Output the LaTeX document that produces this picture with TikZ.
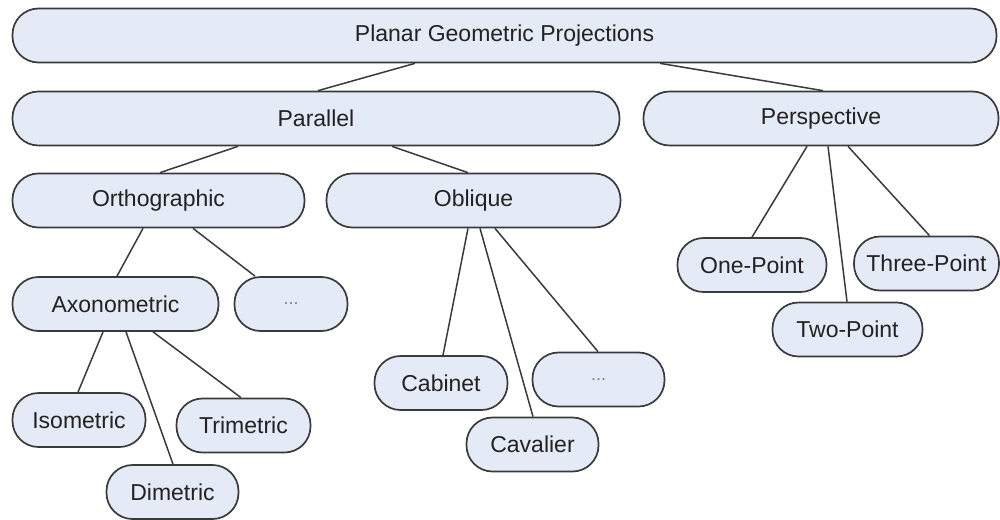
\documentclass[tikz,border=0pt]{standalone}
\usepackage{fontspec}
\setmainfont{Liberation Sans}
\definecolor{boxfill}{RGB}{228,234,246}
\definecolor{boxline}{RGB}{58,58,58}
\definecolor{txt}{RGB}{34,34,34}
\tikzset{
  box/.style={draw=boxline, fill=boxfill, line width=1.7pt, rounded corners=26pt,
    minimum height=54pt, inner sep=0pt, text=txt,
    font=\fontsize{23}{27}\selectfont},
  ell/.style={font=\fontsize{18}{20}\selectfont, text=gray},
  link/.style={draw=boxline, line width=1.5pt}
}
\begin{document}
\begin{tikzpicture}[x=1pt,y=-1pt]
\useasboundingbox (0,0) rectangle (1000,519);
% boxes
\node[box, minimum width=984pt] (pgp)   at (504.5,35.5) {Planar Geometric Projections};
\node[box, minimum width=607pt] (par)   at (316,118.5)  {Parallel};
\node[box, minimum width=355pt] (persp) at (821,118.5)  {Perspective};
\node[box, minimum width=292pt] (ortho) at (158.5,200.5) {Orthographic};
\node[box, minimum width=294pt] (obl)   at (473.5,200.5) {Oblique};
\node[box, minimum width=206pt] (axo)   at (115.5,304)   {Axonometric};
\node[box, ell, minimum width=113pt] (odots) at (291,304) {...};
\node[box, minimum width=133pt] (iso)   at (79,420)      {Isometric};
\node[box, minimum width=134pt] (tri)   at (243.5,425.5) {Trimetric};
\node[box, minimum width=132pt] (dim)   at (172.5,492)   {Dimetric};
\node[box, minimum width=133pt] (cab)   at (441,383)     {Cabinet};
\node[box, ell, minimum width=132pt] (bdots) at (598.5,379.5) {...};
\node[box, minimum width=132pt] (cav)   at (532.5,444.5) {Cavalier};
\node[box, minimum width=149pt] (one)   at (752,265)     {One-Point};
\node[box, minimum width=145pt] (three) at (926.5,263.5) {Three-Point};
\node[box, minimum width=150pt] (two)   at (847.5,329.5) {Two-Point};
% connectors
\draw[link] ([xshift=-89.5pt]pgp.south) -- ([xshift=2pt]par.north);
\draw[link] ([xshift=155.5pt]pgp.south) -- ([xshift=2pt]persp.north);
\draw[link] ([xshift=-78pt]par.south) -- ([xshift=1.5pt]ortho.north);
\draw[link] ([xshift=76pt]par.south) -- ([xshift=-5.5pt]obl.north);
\draw[link] ([xshift=-15.5pt]ortho.south) -- ([xshift=1.5pt]axo.north);
\draw[link] ([xshift=34.5pt]ortho.south) -- ([xshift=-36pt]odots.north);
\draw[link] ([xshift=-12.5pt]axo.south) -- ([xshift=-1pt]iso.north);
\draw[link] ([xshift=10.5pt]axo.south) -- ([xshift=0.5pt]dim.north);
\draw[link] ([xshift=37.5pt]axo.south) -- ([xshift=-2.5pt]tri.north);
\draw[link] ([xshift=-5.5pt]obl.south) -- ([xshift=2pt]cab.north);
\draw[link] ([xshift=6.5pt]obl.south) -- ([xshift=0.5pt]cav.north);
\draw[link] ([xshift=21.5pt]obl.south) -- ([xshift=-0.5pt]bdots.north);
\draw[link] ([xshift=-14pt]persp.south) -- (one.north);
\draw[link] ([xshift=7pt]persp.south) -- ([xshift=-0.5pt]two.north);
\draw[link] ([xshift=27pt]persp.south) -- ([xshift=3pt]three.north);
\end{tikzpicture}
\end{document}
